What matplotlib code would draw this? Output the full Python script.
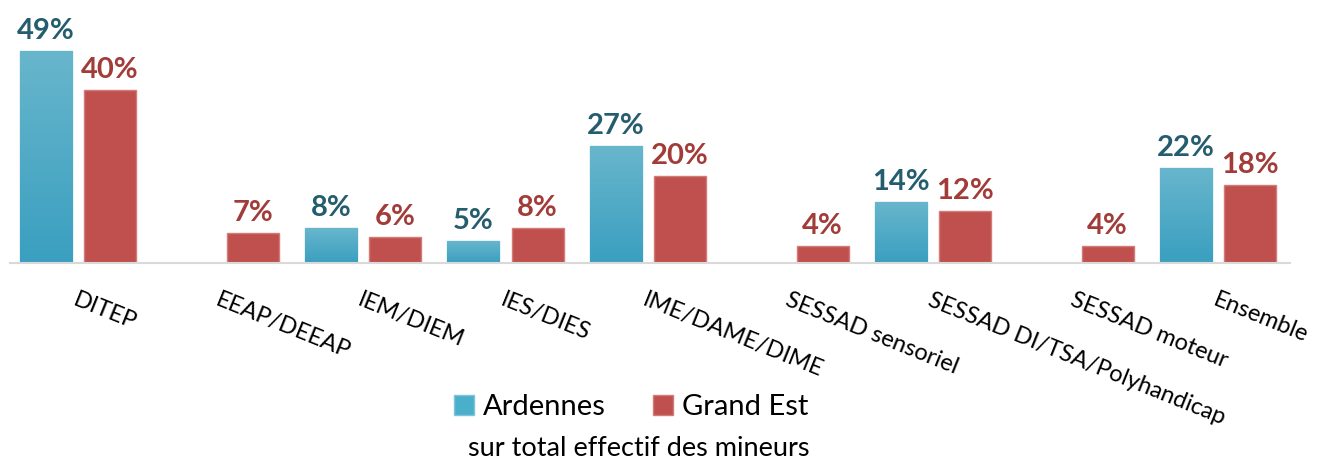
import numpy as np
import matplotlib
matplotlib.use("Agg")
import matplotlib.pyplot as plt
from matplotlib.patches import Patch

categories = ["DITEP", "EEAP/DEEAP", "IEM/DIEM", "IES/DIES", "IME/DAME/DIME",
              "SESSAD sensoriel", "SESSAD DI/TSA/Polyhandicap", "SESSAD moteur", "Ensemble"]
ardennes = [49, None, 8, 5, 27, None, 14, None, 22]
grand_est = [40, 7, 6, 8, 20, 4, 12, 4, 18]
series_names = ["Ardennes", "Grand Est"]
subtitle = "sur total effectif des mineurs"

plt.rcParams['font.family'] = ['Lato', 'DejaVu Sans']

W, H = 1320, 462
fig = plt.figure(figsize=(W/100, H/100), dpi=100)
ax = fig.add_axes([10/W, (H-263)/H, 1280/W, 263/H])

x = np.arange(len(categories))
bw = 0.365
off = 0.225

teal_top = np.array(matplotlib.colors.to_rgb("#68B6CC"))
teal_bot = np.array(matplotlib.colors.to_rgb("#3A9FC0"))
grad = np.linspace(0, 1, 256)[:, None]
grad_img = teal_top[None, None, :] * (1 - grad[:, :, None]) + teal_bot[None, None, :] * grad[:, :, None]

ard_vals = [v if v is not None else 0 for v in ardennes]
bars_a = ax.bar(x - off, ard_vals, width=bw, color="#4AAFCB", edgecolor="#7FC4D8", linewidth=1, zorder=2)
for b, v in zip(bars_a, ardennes):
    if v is None:
        b.set_visible(False)
        continue
    x0, y0 = b.get_x(), b.get_y()
    im = ax.imshow(grad_img, extent=[x0, x0 + b.get_width(), y0, y0 + b.get_height()],
                   aspect='auto', zorder=2.5, origin='upper')
    im.set_clip_path(b)
    ax.annotate(f"{v}%", (b.get_x() + b.get_width()/2, v), xytext=(0, 5),
                textcoords="offset points", ha="center", va="bottom",
                fontsize=21, fontweight="bold", color="#245D6E")

bars_g = ax.bar(x + off, grand_est, width=bw, color="#C0504D", edgecolor="#D27C79", linewidth=1, zorder=2)
for b, v in zip(bars_g, grand_est):
    ax.annotate(f"{v}%", (b.get_x() + b.get_width()/2, v), xytext=(0, 5),
                textcoords="offset points", ha="center", va="bottom",
                fontsize=21, fontweight="bold", color="#A23C39")

ax.set_xlim(-0.477, -0.477 + 1280/142.5)
ax.set_ylim(0, 60.7)
ax.set_yticks([])
ax.set_xticks(x)
ax.set_xticklabels(categories, rotation=-22, ha="left", rotation_mode="anchor", fontsize=17)
ax.tick_params(axis="x", length=0, pad=19)
for s in ["top", "right", "left"]:
    ax.spines[s].set_visible(False)
ax.spines["bottom"].set_color("#D9D9D9")
ax.spines["bottom"].set_linewidth(1.5)
ax.set_autoscale_on(False)

handles = [Patch(facecolor="#4AAFCB", edgecolor="#7FC4D8"), Patch(facecolor="#C0504D", edgecolor="#D27C79")]
fig.legend(handles, series_names, loc="center", bbox_to_anchor=(631/W, 1 - 407/H), ncol=2,
           frameon=False, fontsize=21, handlelength=0.7, handleheight=0.7,
           handletextpad=0.3, columnspacing=1.6)
fig.text(639/W, 1 - 449/H, subtitle, ha="center", va="center", fontsize=19.5)

fig.savefig("out.png", dpi=100)
